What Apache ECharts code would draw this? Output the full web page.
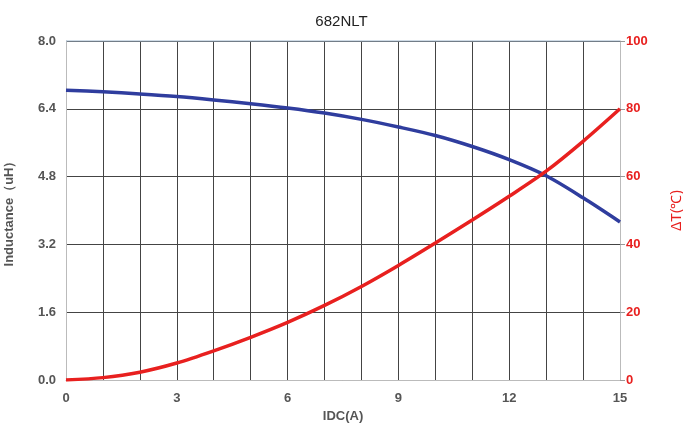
<!DOCTYPE html>
<html><head><meta charset="utf-8">
<script src="https://cdn.jsdelivr.net/npm/echarts@6/dist/echarts.min.js"></script>
<style>html,body{margin:0;padding:0;background:#fff}#c{width:683px;height:432px}</style>
</head><body><div id="c"></div>
<script>
const currents = [0,1,2,3,4,5,6,7,8,9,10,11,12,13,14,15];
const inductance = [6.84,6.80,6.75,6.69,6.61,6.52,6.42,6.30,6.15,5.97,5.77,5.51,5.20,4.82,4.30,3.73];
const tempRise = [0,0.7,2.3,5.0,8.6,12.6,17.0,22.0,27.6,33.8,40.4,47.2,54.2,61.6,70.4,80.0];
const leftTicks = [0,1.6,3.2,4.8,6.4,8.0];

const FONT = 'Liberation Sans';
const chart = echarts.init(document.getElementById('c'));
chart.setOption({
  animation:false,
  title:{text:'682NLT',left:'center',top:9,textStyle:{fontFamily:FONT,fontSize:15,fontWeight:'normal',color:'#222'}},
  grid:{left:66,right:63,top:41,bottom:52,containLabel:false,outerBoundsMode:'none'},
  xAxis:{type:'value',min:0,max:15,interval:1,
    name:'IDC(A)',nameLocation:'middle',nameGap:29,
    nameTextStyle:{fontFamily:FONT,fontWeight:'bold',fontSize:13,color:'#555'},
    axisLine:{lineStyle:{color:'#bbb'}},axisTick:{show:false},
    axisLabel:{margin:12,fontFamily:FONT,fontWeight:'bold',fontSize:13,color:'#555',
      formatter:v=>(v%3===0?String(v):'')},
    splitLine:{show:true,lineStyle:{color:'#444',width:1}}},
  yAxis:[
    {type:'value',min:0,max:8,interval:1.6,position:'left',
     name:'Inductance（uH）',nameLocation:'middle',nameGap:50,nameRotate:90,
     nameTextStyle:{fontFamily:FONT,fontWeight:'bold',fontSize:13,color:'#555'},
     axisLine:{show:true,lineStyle:{color:'#bbb'}},axisTick:{show:false},
     axisLabel:{margin:10,fontFamily:FONT,fontWeight:'bold',fontSize:13,color:'#555',
       formatter:v=>{const t=leftTicks.find(x=>Math.abs(x-v)<1e-6);return (t!==undefined?t:v).toFixed(1);}},
     splitLine:{show:true,lineStyle:{color:'#444',width:1}}},
    {type:'value',min:0,max:100,interval:20,position:'right',
     name:'ΔT(℃)',nameLocation:'middle',nameGap:50,nameRotate:90,
     nameTextStyle:{fontFamily:FONT,fontSize:14,color:'#e8201f'},
     axisLine:{show:true,lineStyle:{color:'#bbb'}},
     axisTick:{show:true,length:5,lineStyle:{color:'#999'}},
     axisLabel:{margin:6,fontFamily:FONT,fontWeight:'bold',fontSize:13,color:'#e8201f'},
     splitLine:{show:false}}
  ],
  series:[
    {type:'line',yAxisIndex:0,smooth:0.3,symbol:'none',
     data:currents.map((x,i)=>[x,inductance[i]]),lineStyle:{color:'#2f3d9e',width:3.5}},
    {type:'line',yAxisIndex:1,smooth:0.3,symbol:'none',
     data:currents.map((x,i)=>[x,tempRise[i]]),lineStyle:{color:'#e8201f',width:3.5}}
  ],
  graphic:[{type:'line',shape:{x1:66,y1:41,x2:620,y2:41},style:{stroke:'#9fb6cc',lineWidth:1},z:100}]
});
</script></body></html>
